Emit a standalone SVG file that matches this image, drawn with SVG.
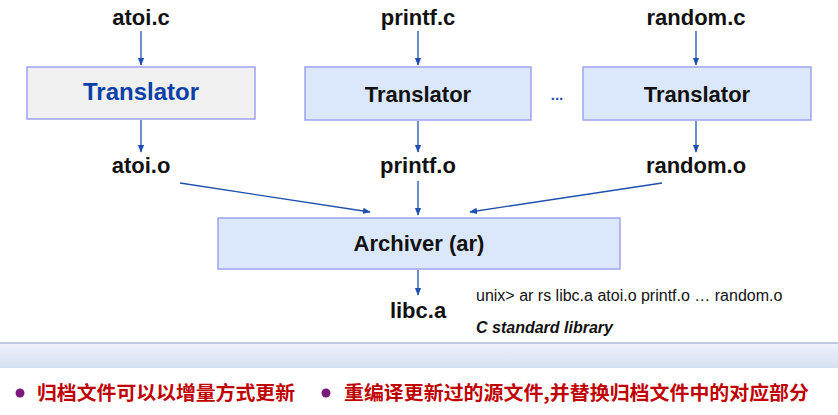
<svg xmlns="http://www.w3.org/2000/svg" width="838" height="415" viewBox="0 0 838 415">
<defs>
<marker id="a" viewBox="0 0 10 10" refX="9" refY="5" markerWidth="6" markerHeight="6" orient="auto"><path d="M0,1 L10,5 L0,9 z" fill="#1f4fb0"/></marker>
<linearGradient id="g" x1="0" y1="0" x2="0" y2="1"><stop offset="0" stop-color="#eef2fa"/><stop offset="1" stop-color="#d4e0f2"/></linearGradient>
<style>
.b{fill:#dbe8fb;stroke:#9fa3f0;stroke-width:1.5}
.t{font-family:"Liberation Sans",Arial,sans-serif;font-weight:bold;font-size:22px;fill:#111;text-anchor:middle}
.c{stroke:#1f4fb0;stroke-width:1.3;fill:none;marker-end:url(#a)}
.z{font-family:"Noto Sans CJK SC",sans-serif;font-weight:bold;font-size:19px;fill:#c00000}
</style>
</defs>
<rect x="0" y="343" width="838" height="25" fill="url(#g)"/>
<line x1="0" y1="343" x2="838" y2="343" stroke="#aab8d8" stroke-width="1.5"/>
<g id="files">
<text class="t" x="141" y="25">atoi.c</text>
<text class="t" x="418" y="25">printf.c</text>
<text class="t" x="696" y="25">random.c</text>
<text class="t" x="141" y="173">atoi.o</text>
<text class="t" x="418" y="173">printf.o</text>
<text class="t" x="696" y="173">random.o</text>
<text class="t" x="418" y="318">libc.a</text>
</g>
<g id="t1"><rect x="27" y="67" width="228" height="52" fill="#f0f0f0" stroke="#9fa3f0" stroke-width="1.5"/><text class="t" x="141" y="100" style="fill:#0a3fa8;font-size:24px">Translator</text></g>
<g id="t2"><rect class="b" x="305" y="67" width="226" height="53"/><text class="t" x="418" y="102">Translator</text></g>
<text class="t" x="557" y="100" style="font-size:15px;fill:#1f4fb0">...</text>
<g id="t3"><rect class="b" x="583" y="67" width="228" height="53"/><text class="t" x="697" y="102">Translator</text></g>
<g id="ar"><rect class="b" x="218" y="218" width="402" height="51"/><text class="t" x="419" y="251">Archiver (ar)</text></g>
<g id="connectors">
<line class="c" x1="141" y1="31" x2="141" y2="65"/>
<line class="c" x1="418" y1="31" x2="418" y2="65"/>
<line class="c" x1="696" y1="31" x2="696" y2="65"/>
<line class="c" x1="141" y1="120" x2="141" y2="152"/>
<line class="c" x1="418" y1="121" x2="418" y2="152"/>
<line class="c" x1="696" y1="121" x2="696" y2="152"/>
<line class="c" x1="180" y1="183" x2="370" y2="212"/>
<line class="c" x1="418" y1="181" x2="418" y2="215"/>
<line class="c" x1="662" y1="183" x2="470" y2="212"/>
<line class="c" x1="418" y1="270" x2="418" y2="295"/>
</g>
<text x="476" y="301" font-family="Liberation Sans,Arial,sans-serif" font-size="16" fill="#111">unix&gt; ar rs libc.a atoi.o printf.o … random.o</text>
<text x="476" y="333" font-family="Liberation Sans,Arial,sans-serif" font-size="16" font-weight="bold" font-style="italic" fill="#111">C standard library</text>
<circle cx="20" cy="393" r="4.5" fill="#7a1a7a"/>
<text class="z" x="37" y="400" textLength="258" lengthAdjust="spacingAndGlyphs">归档文件可以以增量方式更新</text>
<circle cx="326" cy="393" r="4.5" fill="#7a1a7a"/>
<text class="z" x="344" y="400" textLength="465" lengthAdjust="spacingAndGlyphs">重编译更新过的源文件,并替换归档文件中的对应部分</text>
</svg>
